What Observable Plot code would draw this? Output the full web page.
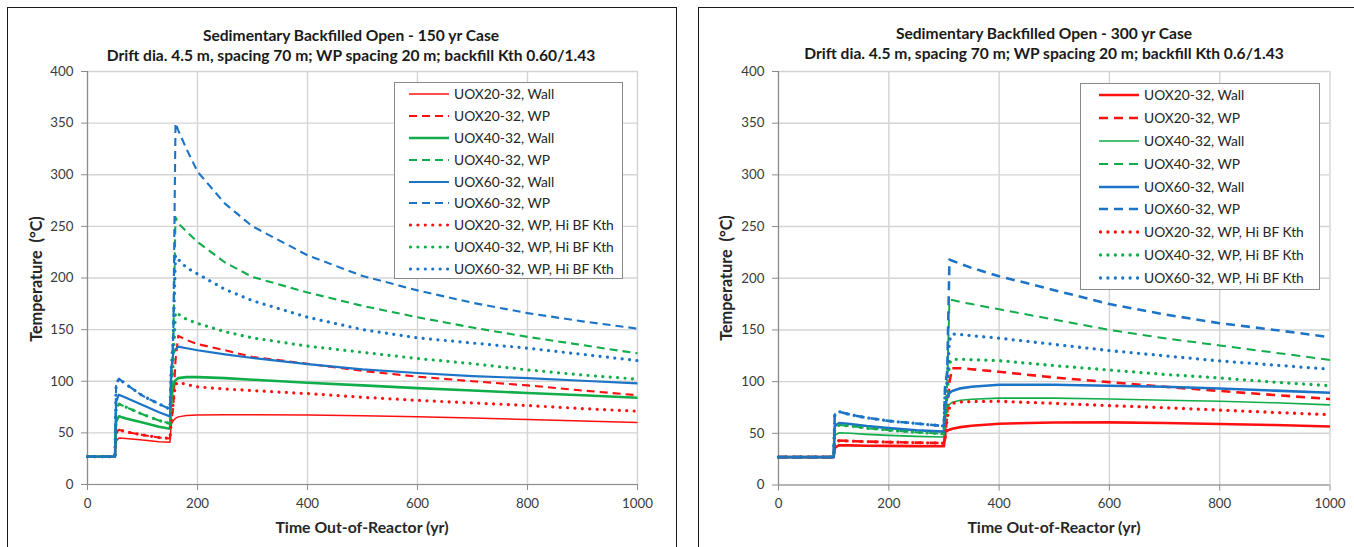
<!DOCTYPE html>
<html>
<head>
<meta charset="utf-8">
<script src="https://cdn.jsdelivr.net/npm/d3@7"></script>
<script src="https://cdn.jsdelivr.net/npm/@observablehq/plot@0.6"></script>
<style>
  html, body { margin: 0; padding: 0; background: #fff; }
  body { font-family: Lato, "Open Sans", sans-serif; }
  #root { position: relative; width: 1354px; height: 547px; overflow: hidden; background: #fff; }
  .frame { position: absolute; border: 1.6px solid #1a1a1a; box-sizing: border-box; }
  .plot { position: absolute; top: 0; }
  .title { position: absolute; font-weight: bold; font-size: 15.6px; color: #1a1a1a; white-space: nowrap;
           transform: translate(-50%, -50%); line-height: 18px; }
  .xlabel { position: absolute; font-weight: bold; font-size: 15.8px; color: #262626; white-space: nowrap;
            transform: translate(-50%, -50%); line-height: 18px; }
  .ylabel { position: absolute; font-weight: bold; font-size: 16.2px; color: #262626; white-space: pre;
            transform: translate(-50%, -50%) rotate(-90deg); line-height: 18px; }
  .legend { position: absolute; background: #fff; border: 1.4px solid #8a8a8a; box-sizing: border-box; }
  .legrow { position: absolute; height: 18px; display: flex; align-items: center; }
  .legrow span { font-size: 13.8px; color: #262626; white-space: nowrap; margin-left: 5px; line-height: 18px; }
</style>
</head>
<body>
<div id="root"></div>
<script>
// ---------------- DATA ----------------
const seriesNames = [
  "UOX20-32, Wall", "UOX20-32, WP",
  "UOX40-32, Wall", "UOX40-32, WP",
  "UOX60-32, Wall", "UOX60-32, WP",
  "UOX20-32, WP, Hi BF Kth", "UOX40-32, WP, Hi BF Kth", "UOX60-32, WP, Hi BF Kth"
];
const xTicks = [0, 200, 400, 600, 800, 1000];
const yTicks = [0, 50, 100, 150, 200, 250, 300, 350, 400];

const title150 = ["Sedimentary Backfilled Open - 150 yr Case",
  "Drift dia. 4.5 m, spacing 70 m; WP spacing 20 m; backfill Kth 0.60/1.43"];
const title300 = ["Sedimentary Backfilled Open - 300 yr Case",
  "Drift dia. 4.5 m, spacing 70 m; WP spacing 20 m; backfill Kth 0.6/1.43"];
const xTitle = "Time Out-of-Reactor (yr)";
const yTitle = "Temperature  (°C)";

// 150 yr case (left panel)
const time150 = [0, 50, 52, 57, 70, 100, 130, 150, 152, 156, 160, 165, 180, 200, 250, 300, 400, 500, 600, 700, 800, 900, 1000];
const c150_uox20_wall = [27, 27, 42, 45, 44.5, 43, 41.5, 41, 58, 62, 64, 65.5, 66.8, 67.3, 67.5, 67.5, 67.3, 66.5, 65.7, 64.5, 63, 61.5, 60];
const c150_uox20_wp   = [27, 27, 50, 53, 51, 48, 45.5, 44.5, 60, 75, 120, 144, 140, 136, 130, 123.5, 117, 110, 104.5, 100, 96, 91, 86.5];
const c150_uox40_wall = [27, 27, 61, 66, 64, 60, 56, 54, 80, 96, 101, 103, 104, 104, 103, 101.5, 98.5, 96, 93.3, 91, 88.6, 86.5, 84];
const c150_uox40_wp   = [27, 27, 73, 78, 75, 68, 62, 59, 75, 140, 259, 253, 245, 235, 215, 201, 186, 173, 162, 152, 143, 135, 127];
const c150_uox60_wall = [27, 27, 80, 87, 84, 77, 70, 66, 110, 127, 131, 133.5, 132, 130, 126, 122.5, 116.5, 111.5, 108, 105, 103, 100.5, 98];
const c150_uox60_wp   = [27, 27, 96, 102.5, 97, 86, 78, 73, 100, 145, 350, 343, 325, 303, 272, 250, 222, 202, 188, 176, 166, 158, 151];
const c150_uox20_hi   = [27, 27, 50, 53, 51, 48, 45.5, 44.5, 60, 80, 97, 99, 97, 94.5, 92.5, 91, 88, 84.5, 81.5, 79, 76.5, 73.5, 71];
const c150_uox40_hi   = [27, 27, 73, 78, 75, 68, 62, 59, 75, 120, 167, 165, 160, 156, 148, 142, 134, 128, 122, 117, 111, 106, 102];
const c150_uox60_hi   = [27, 27, 96, 102.5, 97, 86, 78, 73, 110, 145, 222, 218, 210, 204, 189, 178, 162, 150, 142, 137, 132, 126, 120];

// 300 yr case (right panel)
const time300 = [0, 100, 102, 110, 130, 160, 200, 250, 300, 302, 306, 310, 315, 330, 350, 400, 500, 600, 700, 800, 900, 1000];
const c300_uox20_wall = [27, 27, 36, 38.5, 38.3, 38, 37.8, 37.6, 37.5, 51, 52.5, 53.5, 54.5, 56, 57.3, 59.3, 60.5, 60.6, 60, 59, 58, 56.6];
const c300_uox20_wp   = [27, 27, 41, 43, 42.5, 42, 41.5, 41, 40.5, 45, 70, 100, 113, 113, 112, 109.5, 104, 99.5, 95, 91, 87, 83.2];
const c300_uox40_wall = [27, 27, 48, 50.5, 50, 49, 48, 47, 46.5, 62, 74, 78, 80, 82, 83, 84, 84, 83.2, 82, 81, 79.5, 77.5];
const c300_uox40_wp   = [27, 27, 55, 58, 57, 55, 53, 51, 49.6, 65, 100, 179, 179, 177, 175, 170, 160, 150, 142, 135, 128, 121];
const c300_uox60_wall = [27, 27, 57, 60, 59, 57, 55, 53, 51.6, 75, 85, 89, 91, 93.5, 95, 97, 97, 96, 95, 93.3, 91.3, 89.3];
const c300_uox60_wp   = [27, 27, 68, 71, 68, 65, 62, 59.5, 57, 95, 110, 218, 217, 214, 210, 202, 188.5, 175, 165, 156.5, 150, 143];
const c300_uox20_hi   = [27, 27, 41, 43, 42.5, 42, 41.5, 41, 40.5, 45, 65, 75, 79, 80.3, 80.8, 81, 79, 76.8, 74.8, 72.5, 70.2, 68];
const c300_uox40_hi   = [27, 27, 55, 58, 57, 55, 53, 51, 49.6, 65, 90, 118, 121.5, 121.7, 121.3, 120.3, 115.5, 111.2, 107, 103.5, 99.5, 96];
const c300_uox60_hi   = [27, 27, 68, 71, 68, 65, 62, 59.5, 57, 90, 100, 140, 146, 145.5, 144.5, 142, 136, 130, 125, 120, 116, 112];

// ---------------- STYLES ----------------
const RED = "#ff1010", GREEN = "#10ad4a", BLUE = "#1c74c6";
const seriesColors = [RED, RED, GREEN, GREEN, BLUE, BLUE, RED, GREEN, BLUE];
const DOT = "0.01,7.4";
const styles150 = [
  {w: 1.5, dash: null}, {w: 2.1, dash: "8,5"},
  {w: 2.6, dash: null}, {w: 2.1, dash: "8,5"},
  {w: 2.2, dash: null}, {w: 2.1, dash: "8,5"},
  {w: 3.2, dash: DOT, cap: "round"}, {w: 3.2, dash: DOT, cap: "round"}, {w: 3.2, dash: DOT, cap: "round"}
];
const styles300 = [
  {w: 2.6, dash: null}, {w: 2.6, dash: "9,6"},
  {w: 1.6, dash: null}, {w: 2.0, dash: "9,6"},
  {w: 2.6, dash: null}, {w: 2.6, dash: "9,6"},
  {w: 3.3, dash: DOT, cap: "round"}, {w: 3.3, dash: DOT, cap: "round"}, {w: 3.3, dash: DOT, cap: "round"}
];

function tidy(time, cols) {
  const rows = [];
  cols.forEach((vals, s) => vals.forEach((v, i) => rows.push({series: s, t: time[i], T: v})));
  return rows;
}
const data150 = tidy(time150, [c150_uox20_wall, c150_uox20_wp, c150_uox40_wall, c150_uox40_wp, c150_uox60_wall, c150_uox60_wp, c150_uox20_hi, c150_uox40_hi, c150_uox60_hi]);
const data300 = tidy(time300, [c300_uox20_wall, c300_uox20_wp, c300_uox40_wall, c300_uox40_wp, c300_uox60_wall, c300_uox60_wp, c300_uox20_hi, c300_uox40_hi, c300_uox60_hi]);

const root = document.getElementById("root");
function el(cls, css, text) {
  const d = document.createElement("div");
  d.className = cls;
  Object.assign(d.style, css);
  if (text != null) d.textContent = text;
  root.appendChild(d);
  return d;
}

function panel(cfg) {
  el("frame", {left: cfg.frame[0] + "px", top: cfg.frame[1] + "px", width: cfg.frame[2] + "px", height: cfg.frame[3] + "px"});
  const gridStyle = {stroke: "#d4d4d4", strokeOpacity: 1, strokeWidth: 1.4};
  const axisCommon = {tickSize: 6, fontSize: 13.3, color: "#3a3a3a", stroke: "#8c8c8c", label: null, tickFormat: d => String(d)};
  const marks = [
    Plot.gridX(xTicks, gridStyle),
    Plot.gridY(yTicks, gridStyle),
    Plot.ruleX([0], {stroke: "#8c8c8c", strokeWidth: 1.2}),
    Plot.ruleY([0], {stroke: "#8c8c8c", strokeWidth: 1.2}),
    Plot.axisX(xTicks, {...axisCommon, tickPadding: 8}),
    Plot.axisY(yTicks, {...axisCommon, tickPadding: 8})
  ];
  seriesNames.forEach((name, s) => {
    const st = cfg.styles[s];
    marks.push(Plot.line(cfg.data.filter(d => d.series === s), {
      x: "t", y: "T", stroke: seriesColors[s], strokeWidth: st.w,
      strokeDasharray: st.dash, strokeLinecap: st.cap || "butt", strokeLinejoin: "round"
    }));
  });
  const svg = Plot.plot({
    width: cfg.width, height: 547,
    marginLeft: cfg.m[0], marginRight: cfg.m[1], marginTop: cfg.m[2], marginBottom: cfg.m[3],
    x: {domain: [0, 1000]}, y: {domain: [0, 400]},
    style: {background: "transparent", fontFamily: "Lato, sans-serif", fontSize: "13.3px", overflow: "visible"},
    marks
  });
  svg.classList.add("plot");
  svg.style.left = cfg.left + "px";
  root.appendChild(svg);

  el("title", {left: cfg.titleX + "px", top: cfg.titleY[0] + "px"}, cfg.title[0]);
  el("title", {left: cfg.titleX + "px", top: cfg.titleY[1] + "px"}, cfg.title[1]);
  el("xlabel", {left: cfg.xlab[0] + "px", top: cfg.xlab[1] + "px"}, xTitle);
  el("ylabel", {left: cfg.ylab[0] + "px", top: cfg.ylab[1] + "px"}, yTitle);

  const L = cfg.legend;
  const box = el("legend", {left: L.box[0] + "px", top: L.box[1] + "px", width: L.box[2] + "px", height: L.box[3] + "px"});
  seriesNames.forEach((name, s) => {
    const st = cfg.styles[s];
    const row = document.createElement("div");
    row.className = "legrow";
    row.style.left = (L.sampleX - L.box[0]) + "px";
    row.style.top = (L.row0 + s * L.step - 9 - L.box[1]) + "px";
    const ns = "http://www.w3.org/2000/svg";
    const sv = document.createElementNS(ns, "svg");
    sv.setAttribute("width", L.sampleW); sv.setAttribute("height", 18);
    const ln = document.createElementNS(ns, "line");
    ln.setAttribute("x1", st.cap ? 1.5 : 0); ln.setAttribute("x2", L.sampleW);
    ln.setAttribute("y1", 9); ln.setAttribute("y2", 9);
    ln.setAttribute("stroke", seriesColors[s]); ln.setAttribute("stroke-width", st.w);
    if (st.dash) ln.setAttribute("stroke-dasharray", st.dash);
    ln.setAttribute("stroke-linecap", st.cap || "butt");
    sv.appendChild(ln);
    row.appendChild(sv);
    const sp = document.createElement("span");
    sp.textContent = name;
    row.appendChild(sp);
    box.appendChild(row);
  });
}

panel({
  frame: [7, 7, 670, 600], left: 0, width: 680, m: [87, 43, 71, 63],
  data: data150, styles: styles150, title: title150, titleX: 351, titleY: [34.5, 54.5],
  xlab: [362, 527], ylab: [36, 279],
  legend: {box: [394, 82, 229, 197], sampleX: 408, sampleW: 40, row0: 93.3, step: 21.8}
});
panel({
  frame: [698, 7, 700, 600], left: 690, width: 664, m: [88, 24.5, 71, 62.5],
  data: data300, styles: styles300, title: title300, titleX: 1044, titleY: [32.5, 53],
  xlab: [1054, 527], ylab: [726, 278],
  legend: {box: [1080, 83, 240, 207], sampleX: 1098, sampleW: 40, row0: 94.2, step: 22.85}
});
</script>
</body>
</html>
